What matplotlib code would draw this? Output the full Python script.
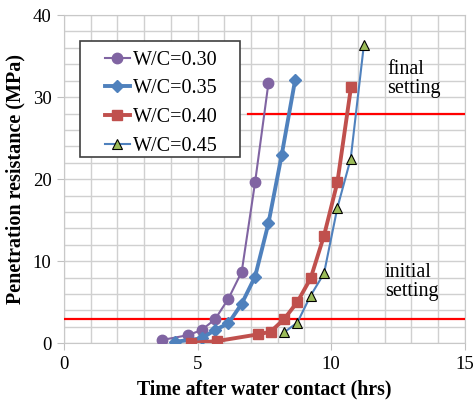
import numpy as np
import matplotlib.pyplot as plt
from matplotlib.patches import Rectangle
from matplotlib.ticker import MultipleLocator

plt.rcParams['font.family'] = ['Liberation Serif', 'DejaVu Serif']

# data
t30 = [3.65, 4.65, 5.15, 5.65, 6.15, 6.65, 7.15, 7.65]
p30 = [0.37, 0.98, 1.6, 2.9, 5.4, 8.7, 19.6, 31.7]

t35 = [4.15, 5.15, 5.65, 6.15, 6.65, 7.15, 7.65, 8.15, 8.65]
p35 = [0.16, 0.57, 1.6, 2.4, 4.8, 8.1, 14.6, 23.0, 32.1]

t40 = [4.74, 5.71, 7.25, 7.73, 8.23, 8.73, 9.23, 9.73, 10.23, 10.74]
p40 = [0.04, 0.24, 1.06, 1.39, 2.9, 5.0, 7.9, 13.1, 19.6, 31.2]

t45 = [8.23, 8.73, 9.23, 9.73, 10.23, 10.73, 11.22]
p45 = [1.3, 2.5, 5.8, 8.5, 16.5, 22.5, 36.3]

initial_set = 3.0
final_set = 28.0

fig = plt.figure(figsize=(4.76, 4.08), dpi=100)
ax = fig.add_axes([0.1345, 0.159, 0.842, 0.804])

ax.plot(t30, p30, color='#8064A2', lw=1.5, marker='o', ms=7.5, label='W/C=0.30', zorder=4)
ax.plot(t35, p35, color='#4F81BD', lw=2.8, marker='D', ms=6.5, label='W/C=0.35', zorder=4)
ax.plot(t40, p40, color='#C0504D', lw=2.8, marker='s', ms=7, label='W/C=0.40', zorder=4)
ax.plot(t45, p45, color='#4F81BD', lw=1.5, marker='^', ms=7.5, mfc='#9BBB59',
        mec='black', mew=0.8, label='W/C=0.45', zorder=4)

ax.axhline(initial_set, xmin=0, xmax=1, color='red', lw=1.6, zorder=3)
ax.axhline(final_set, xmin=6.9 / 15, xmax=1, color='red', lw=1.6, zorder=3)

ax.text(12.1, 34.5, 'final\nsetting', fontsize=14.5, va='top', ha='left', linespacing=1.0)
ax.text(12.0, 9.8, 'initial\nsetting', fontsize=14.5, va='top', ha='left', linespacing=1.0)

ax.set_xlim(0, 15)
ax.set_ylim(0, 40)
ax.xaxis.set_major_locator(MultipleLocator(5))
ax.xaxis.set_minor_locator(MultipleLocator(1))
ax.yaxis.set_major_locator(MultipleLocator(10))
ax.yaxis.set_minor_locator(MultipleLocator(2))
ax.grid(which='both', color='#d0d0d0', lw=1.0, zorder=0)
ax.set_axisbelow(True)
ax.tick_params(which='major', length=5, color='#c0c0c0', labelsize=13.5, pad=4)
ax.tick_params(which='minor', length=0)
for s in ax.spines.values():
    s.set_color('#c8c8c8')

ax.set_xlabel('Time after water contact (hrs)', fontsize=14.3, fontweight='bold', labelpad=5)
ax.set_ylabel('Penetration resistance (MPa)', fontsize=14.5, fontweight='bold', labelpad=5)

# legend frame drawn separately so the side padding can be wider than the top
ax.add_patch(Rectangle((0.040, 0.566), 0.399, 0.355, transform=ax.transAxes,
                       facecolor='white', edgecolor='#404040', lw=1.2, zorder=5))
leg = ax.legend(loc='upper left', bbox_to_anchor=(0.102, 0.892), fontsize=14.5,
                frameon=False, handlelength=1.25, handletextpad=0.15,
                labelspacing=0.48, borderpad=0, borderaxespad=0)
leg.set_zorder(6)

fig.savefig('out.png', dpi=100)
